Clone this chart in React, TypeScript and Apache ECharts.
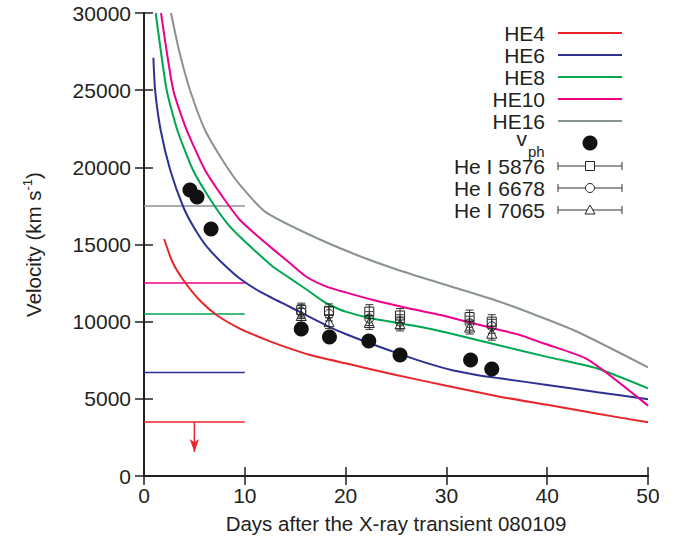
import React, { useEffect, useRef } from "react";
import * as echarts from "echarts";

// ---- Data ----
const xTicks = [0, 10, 20, 30, 40, 50];
const yTicks = [0, 5000, 10000, 15000, 20000, 25000, 30000];

const he4 = [[2.0,15360],[2.8,13900],[3.9,12700],[5.5,11400],[7.2,10430],[9.5,9550],[12,8850],[14,8370],[16.5,7840],[20,7300],[25,6550],[30,5850],[35.3,5140],[40,4610],[45,4030],[50,3480]];
const he6 = [[0.93,27100],[1.1,25000],[1.65,22420],[2.6,19830],[3.9,17430],[5,16050],[6.25,14840],[8,13650],[9.5,12800],[11.5,11950],[14.5,10950],[18,9780],[20,9200],[22.4,8600],[25.4,7900],[28,7330],[30.7,6830],[33,6550],[35.3,6330],[40,5900],[45,5430],[50,4970]];
const he8 = [[1.16,30000],[2.25,25010],[3.3,22420],[4.86,19830],[6.5,18000],[8.23,16390],[9.52,15500],[11.5,14300],[12.8,13560],[14.5,12800],[16.2,12050],[17.6,11400],[18.45,11080],[20,10650],[23,10150],[26.7,9750],[30,9300],[35.3,8450],[40,7720],[44.9,6980],[50,5680]];
const he10 = [[1.69,30000],[2.9,25010],[4.23,22420],[6.05,19830],[8,17900],[9.52,16590],[11,15700],[12.8,14700],[14.5,13780],[16.1,12910],[18.1,12270],[20,11900],[22.75,11400],[26,10900],[29.4,10430],[32,10000],[35.3,9460],[37.3,9140],[39.6,8600],[44,7560],[50,4560]];
const he16 = [[2.68,30000],[3.5,27500],[4.56,25010],[6.05,22420],[8,20250],[9.52,18860],[12,17130],[16.1,15730],[21.1,14320],[25,13400],[29.4,12490],[35.3,11290],[42.6,9460],[50,7040]];

// Early-phase velocity levels (x from 0 to 10 days)
const levelX = [0, 10];
const levelHE4 = 3500;
const levelHE6 = 6700;
const levelHE8 = 10500;
const levelHE10 = 12500;
const levelHE16 = 17500;
const arrowX = 5;
const arrowEnd = 1550;

// Photospheric velocity
const vphDays = [4.56, 5.26, 6.65, 15.6, 18.4, 22.3, 25.4, 32.4, 34.5];
const vphVel = [18530, 18080, 16000, 9525, 9000, 8750, 7840, 7520, 6930];

// He I lines
const heDays = [15.6, 18.35, 22.35, 25.4, 32.3, 34.5];
const he5876 = [10750, 10700, 10650, 10400, 10300, 10000];
const he6678 = [10650, 10500, 10200, 10000, 9900, 9700];
const he7065 = [10400, 10000, 9950, 9850, 9650, 9250];
const heErr = [450, 450, 450, 450, 450, 450];

const legendNames = ["HE4", "HE6", "HE8", "HE10", "HE16"];
const colors = ["#e8262a", "#2e3192", "#00a651", "#ec008c", "#8a9296"];
const ink = "#231f20";
const FONT = "'Liberation Sans', Arial, Helvetica, sans-serif";
const TICK_FS = 21;
const NAME_FS = 20.5;

export default function App() {
  const ref = useRef<HTMLDivElement>(null);
  useEffect(() => {
    if (!ref.current) return;
    const chart = echarts.init(ref.current, null, { renderer: "svg" });

    const lineSeries = [he4, he6, he8, he10, he16].map((d, i) => ({
      type: "line",
      name: legendNames[i],
      data: d,
      showSymbol: false,
      smooth: 0.2,
      lineStyle: { color: colors[i], width: 2 },
      itemStyle: { color: colors[i] },
      z: 3,
    }));

    const levels = [levelHE4, levelHE6, levelHE8, levelHE10, levelHE16];
    const levelSeries = levels.map((v, i) => ({
      type: "line",
      data: levelX.map((x) => [x, v]),
      showSymbol: false,
      lineStyle: { color: colors[i], width: 1.5 },
      z: 2,
    }));

    const errData = (ys: number[]) => heDays.map((x, i) => [x, ys[i], heErr[i]]);
    const errSeries = (ys: number[]) => ({
      type: "custom",
      data: errData(ys),
      z: 4,
      renderItem: (params: any, api: any) => {
        const x = api.value(0);
        const y = api.value(1);
        const e = api.value(2);
        const top = api.coord([x, y + e]);
        const bot = api.coord([x, y - e]);
        const w = 4;
        const st = { stroke: "#333", lineWidth: 1 };
        return {
          type: "group",
          children: [
            { type: "line", shape: { x1: top[0], y1: top[1], x2: bot[0], y2: bot[1] }, style: st },
            { type: "line", shape: { x1: top[0] - w, y1: top[1], x2: top[0] + w, y2: top[1] }, style: st },
            { type: "line", shape: { x1: bot[0] - w, y1: bot[1], x2: bot[0] + w, y2: bot[1] }, style: st },
          ],
        };
      },
    });
    const markerSeries = (ys: number[], symbol: string, size: number) => ({
      type: "scatter",
      data: heDays.map((x, i) => [x, ys[i]]),
      symbol,
      symbolSize: size,
      itemStyle: { color: "rgba(255,255,255,0)", borderColor: "#222", borderWidth: 1, opacity: 1 },
      z: 5,
    });

    // Legend drawn as graphics
    const rowY = [33, 55, 77, 99, 121, 143, 166, 188, 210];
    const textRight = 545;
    const lx1 = 558;
    const lx2 = 622;
    const lmid = 590;
    const graphics: any[] = [];
    const txt = (text: string, x: number, y: number, size: number, align = "right") => ({
      type: "text",
      x,
      y,
      style: { text, fontSize: size, fontFamily: FONT, fill: ink, align, verticalAlign: "middle" },
    });
    legendNames.forEach((n, i) => {
      graphics.push(txt(n, textRight, rowY[i], TICK_FS));
      graphics.push({
        type: "line",
        shape: { x1: lx1, y1: rowY[i], x2: lx2, y2: rowY[i] },
        style: { stroke: colors[i], lineWidth: 2 },
      });
    });
    graphics.push(txt("v", 527, rowY[5] - 5, TICK_FS));
    graphics.push(txt("ph", 528, rowY[5] + 8, 15, "left"));
    graphics.push({ type: "circle", shape: { cx: lmid, cy: rowY[5], r: 7.5 }, style: { fill: "#111" } });
    const heNames = ["He I 5876", "He I 6678", "He I 7065"];
    heNames.forEach((n, k) => {
      const y = rowY[6 + k];
      graphics.push(txt(n, textRight, y, TICK_FS));
      const st = { stroke: "#333", lineWidth: 1 };
      graphics.push({ type: "line", shape: { x1: lx1, y1: y, x2: lx2, y2: y }, style: st });
      graphics.push({ type: "line", shape: { x1: lx1, y1: y - 4, x2: lx1, y2: y + 4 }, style: st });
      graphics.push({ type: "line", shape: { x1: lx2, y1: y - 4, x2: lx2, y2: y + 4 }, style: st });
      const mst = { fill: "#fff", stroke: "#222", lineWidth: 1 };
      if (k === 0) graphics.push({ type: "rect", shape: { x: lmid - 4.5, y: y - 4.5, width: 9, height: 9 }, style: mst });
      if (k === 1) graphics.push({ type: "circle", shape: { cx: lmid, cy: y, r: 4.5 }, style: mst });
      if (k === 2) graphics.push({ type: "polygon", shape: { points: [[lmid, y - 5], [lmid - 5, y + 4], [lmid + 5, y + 4]] }, style: mst });
    });

    const axisCommon = {
      min: 0,
      axisLine: { show: true, lineStyle: { color: ink, width: 2 } },
      axisTick: { show: true, inside: true, length: 9, lineStyle: { color: ink, width: 1.5 } },
      splitLine: { show: false },
    };

    chart.setOption({
      animation: false,
      backgroundColor: "#fff",
      grid: { left: 144, right: 34, top: 13, bottom: 70, containLabel: false },
      xAxis: [
        {
          ...axisCommon,
          type: "value",
          max: xTicks[xTicks.length - 1],
          interval: 10,
          position: "bottom",
          axisLabel: { fontSize: TICK_FS, color: ink, fontFamily: FONT, margin: 9, formatter: (v: number) => String(v) },
          name: "Days after the X-ray transient 080109",
          nameLocation: "middle",
          nameGap: 37,
          nameTextStyle: { fontSize: NAME_FS, color: ink, fontFamily: FONT },
        },
        {
          ...axisCommon,
          type: "value",
          max: xTicks[xTicks.length - 1],
          interval: 10,
          position: "top",
          axisLabel: { show: false },
        },
      ],
      yAxis: [
        {
          ...axisCommon,
          type: "value",
          max: yTicks[yTicks.length - 1],
          interval: 5000,
          position: "left",
          axisLabel: { fontSize: TICK_FS, color: ink, fontFamily: FONT, margin: 13, formatter: (v: number) => String(v) },
          name: "Velocity (km s{sup|-1})",
          nameLocation: "middle",
          nameGap: 99,
          nameRotate: 90,
          nameTextStyle: {
            fontSize: NAME_FS,
            color: ink,
            fontFamily: FONT,
            rich: {
              sup: { fontSize: 13, color: ink, fontFamily: FONT, verticalAlign: "top", lineHeight: 24, padding: [0, 0, 9, 0] },
            },
          },
        },
        {
          ...axisCommon,
          type: "value",
          max: yTicks[yTicks.length - 1],
          interval: 5000,
          position: "right",
          axisLabel: { show: false },
        },
      ],
      graphic: graphics,
      series: [
        ...levelSeries,
        {
          type: "line",
          data: [
            { value: [arrowX, levelHE4], symbol: "none" },
            { value: [arrowX, arrowEnd], symbol: "arrow", symbolSize: [7, 13], symbolRotate: 180 },
          ],
          showSymbol: true,
          lineStyle: { color: colors[0], width: 1.5 },
          itemStyle: { color: colors[0] },
          z: 2,
        },
        ...lineSeries,
        {
          type: "scatter",
          data: vphDays.map((x, i) => [x, vphVel[i]]),
          symbol: "circle",
          symbolSize: 15,
          itemStyle: { color: "#111", opacity: 1 },
          z: 6,
        },
        errSeries(he5876),
        errSeries(he6678),
        errSeries(he7065),
        markerSeries(he5876, "rect", 9),
        markerSeries(he6678, "circle", 9),
        markerSeries(he7065, "triangle", 10),
      ],
    });
    return () => chart.dispose();
  }, []);
  return <div ref={ref} style={{ position: "fixed", left: 0, top: 0, width: 682, height: 546 }} />;
}
